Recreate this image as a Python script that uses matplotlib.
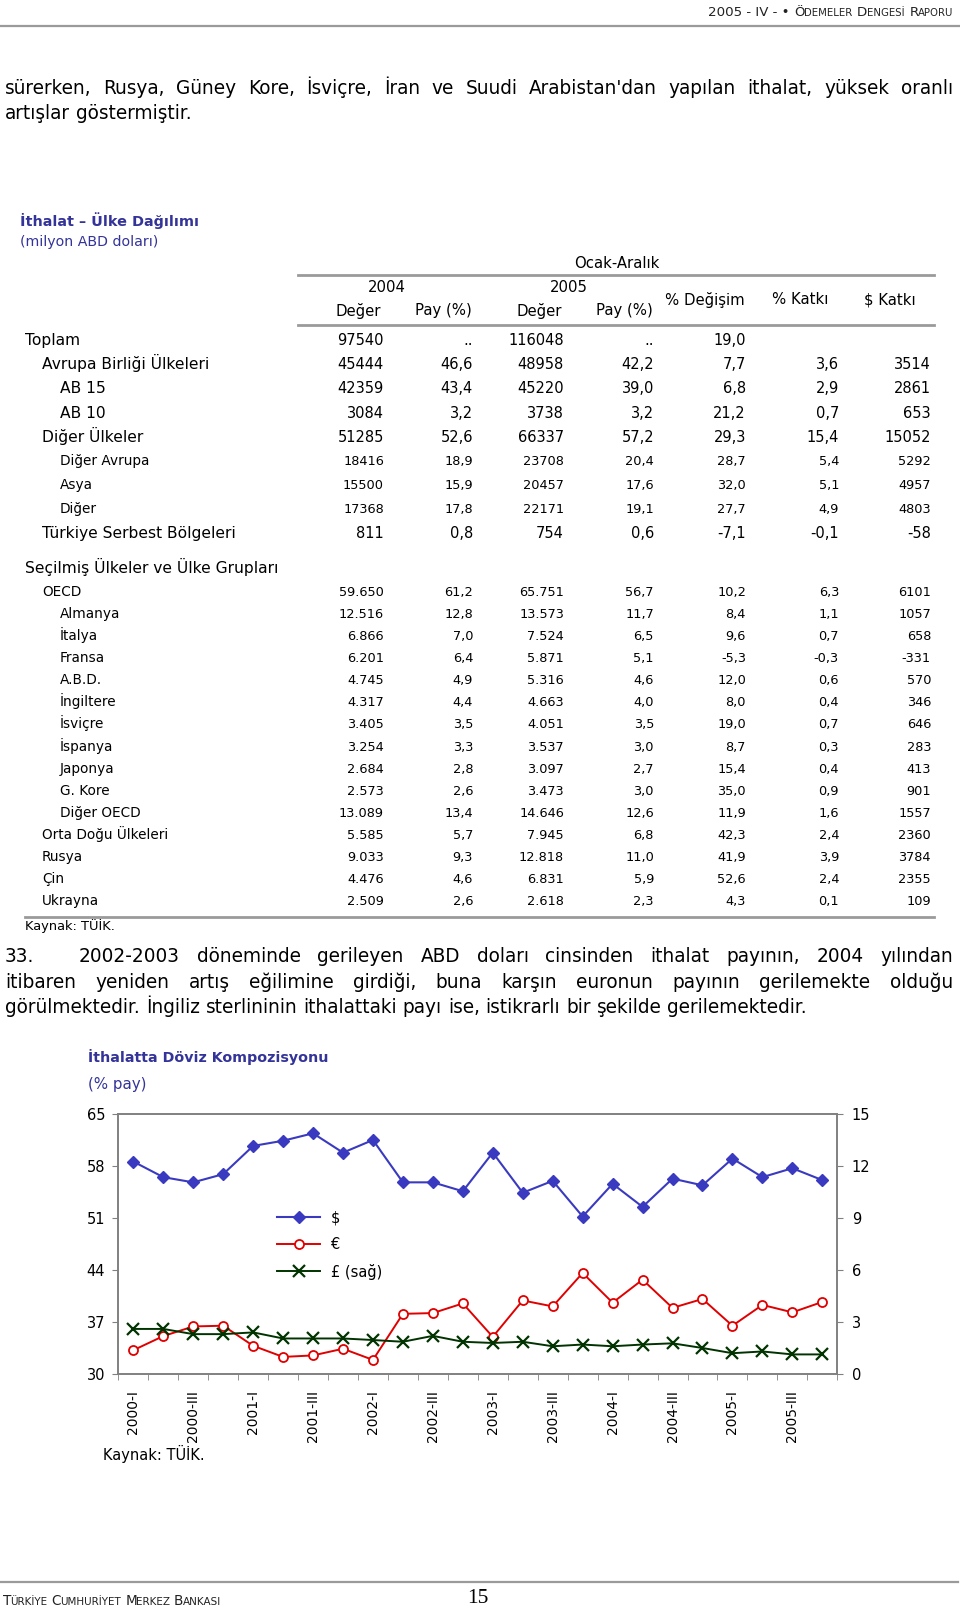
import numpy as np
import matplotlib
matplotlib.use("Agg")
import matplotlib.pyplot as plt

plt.rcParams["font.family"] = ["DejaVu Sans"]

NAVY = "#333399"
GRAY = "#9a9a9a"
INK = "#222222"

# ---------------- table: Ithalat - Ulke Dagilimi ----------------
labels1 = ["Toplam", "Avrupa Birliği Ülkeleri", "AB 15", "AB 10", "Diğer Ülkeler",
           "Diğer Avrupa", "Asya", "Diğer", "Türkiye Serbest Bölgeleri"]
indent1 = [0, 1, 2, 2, 1, 2, 2, 2, 1]
deger04_1 = ["97540", "45444", "42359", "3084", "51285", "18416", "15500", "17368", "811"]
pay04_1 = ["..", "46,6", "43,4", "3,2", "52,6", "18,9", "15,9", "17,8", "0,8"]
deger05_1 = ["116048", "48958", "45220", "3738", "66337", "23708", "20457", "22171", "754"]
pay05_1 = ["..", "42,2", "39,0", "3,2", "57,2", "20,4", "17,6", "19,1", "0,6"]
degisim_1 = ["19,0", "7,7", "6,8", "21,2", "29,3", "28,7", "32,0", "27,7", "-7,1"]
katki_1 = ["", "3,6", "2,9", "0,7", "15,4", "5,4", "5,1", "4,9", "-0,1"]
dkatki_1 = ["", "3514", "2861", "653", "15052", "5292", "4957", "4803", "-58"]

labels2 = ["OECD", "Almanya", "İtalya", "Fransa", "A.B.D.", "İngiltere", "İsviçre", "İspanya",
           "Japonya", "G. Kore", "Diğer OECD", "Orta Doğu Ülkeleri", "Rusya", "Çin", "Ukrayna"]
indent2 = [1, 2, 2, 2, 2, 2, 2, 2, 2, 2, 2, 1, 1, 1, 1]
deger04_2 = ["59.650", "12.516", "6.866", "6.201", "4.745", "4.317", "3.405", "3.254",
             "2.684", "2.573", "13.089", "5.585", "9.033", "4.476", "2.509"]
pay04_2 = ["61,2", "12,8", "7,0", "6,4", "4,9", "4,4", "3,5", "3,3",
           "2,8", "2,6", "13,4", "5,7", "9,3", "4,6", "2,6"]
deger05_2 = ["65.751", "13.573", "7.524", "5.871", "5.316", "4.663", "4.051", "3.537",
             "3.097", "3.473", "14.646", "7.945", "12.818", "6.831", "2.618"]
pay05_2 = ["56,7", "11,7", "6,5", "5,1", "4,6", "4,0", "3,5", "3,0",
           "2,7", "3,0", "12,6", "6,8", "11,0", "5,9", "2,3"]
degisim_2 = ["10,2", "8,4", "9,6", "-5,3", "12,0", "8,0", "19,0", "8,7",
             "15,4", "35,0", "11,9", "42,3", "41,9", "52,6", "4,3"]
katki_2 = ["6,3", "1,1", "0,7", "-0,3", "0,6", "0,4", "0,7", "0,3",
           "0,4", "0,9", "1,6", "2,4", "3,9", "2,4", "0,1"]
dkatki_2 = ["6101", "1057", "658", "-331", "570", "346", "646", "283",
            "413", "901", "1557", "2360", "3784", "2355", "109"]

# ---------------- chart: Ithalatta Doviz Kompozisyonu ----------------
quarters = [f"{y}-{q}" for y in range(2000, 2006) for q in ["I", "II", "III", "IV"]]
usd = [58.6, 56.5, 55.8, 56.9, 60.7, 61.4, 62.4, 59.8, 61.5, 55.8, 55.8, 54.6,
       59.8, 54.4, 56.0, 51.2, 55.6, 52.5, 56.3, 55.4, 59.0, 56.5, 57.7, 56.1]
eur = [33.2, 35.1, 36.4, 36.5, 33.8, 32.3, 32.5, 33.4, 31.9, 38.1, 38.2, 39.5,
       35.0, 39.9, 39.1, 43.6, 39.6, 42.7, 38.9, 40.1, 36.5, 39.3, 38.3, 39.7]
gbp = [2.6, 2.6, 2.3, 2.3, 2.4, 2.05, 2.05, 2.05, 1.96, 1.86, 2.2, 1.86,
       1.79, 1.86, 1.6, 1.7, 1.6, 1.7, 1.77, 1.5, 1.2, 1.3, 1.13, 1.13]

para_top = ["sürerken, Rusya, Güney Kore, İsviçre, İran ve Suudi Arabistan'dan yapılan ithalat, yüksek oranlı",
            "artışlar göstermiştir."]
para_33 = ["2002-2003 döneminde gerileyen ABD doları cinsinden ithalat payının, 2004 yılından",
           "itibaren yeniden artış eğilimine girdiği, buna karşın euronun payının gerilemekte olduğu",
           "görülmektedir. İngiliz sterlininin ithalattaki payı ise, istikrarlı bir şekilde gerilemektedir."]

fig = plt.figure(figsize=(9.6, 16.1), dpi=100)
page = fig.add_axes([0, 0, 1, 1])
page.set_xlim(0, 960)
page.set_ylim(1610, 0)
page.axis("off")
renderer = fig.canvas.get_renderer()


def width_of(t):
    return t.get_window_extent(renderer).width


def place(x, y, parts, align="left", gap=4, **kw):
    # parts: (text, size, kern) pieces drawn one after another, None = word gap
    texts, widths = [], []
    for p in parts:
        if p is None:
            texts.append(None)
            widths.append(gap)
            continue
        t = page.text(0, y, p[0], fontsize=p[1], ha="left", va="baseline", **kw)
        texts.append(t)
        widths.append(width_of(t) + p[2])
    cur = x - sum(widths) if align == "right" else x
    for t, w in zip(texts, widths):
        if t is not None:
            t.set_x(cur)
        cur += w


def smallcaps(text, big, small):
    parts = []
    for i, word in enumerate(text.split()):
        if i:
            parts.append(None)
        parts.append((word[0], big, -0.8 if len(word) > 1 else 0))
        if len(word) > 1:
            parts.append((word[1:], small, 0))
    return parts


def justify(line, x0, x1, y, size, last=False):
    words = line.split()
    texts = [page.text(x0, y, w, fontsize=size, ha="left", va="baseline", color="black")
             for w in words]
    widths = [width_of(t) for t in texts]
    if last:
        gap = size * 0.32 * 100 / 72
    else:
        gap = (x1 - x0 - sum(widths)) / (len(words) - 1)
    cur = x0
    for t, w in zip(texts, widths):
        t.set_x(cur)
        cur += w + gap


# body font size, from the width of the last line of paragraph 33
probe = page.text(0, 0, para_33[2], fontsize=10)
body_fs = 10 * 805 / width_of(probe)
probe.remove()

# header / footer
page.plot([0, 960], [26, 26], color=GRAY, lw=1.6)
place(953, 16, [("2005 - IV - •", 9.6, 0), None] + smallcaps("ÖDEMELER DENGESİ RAPORU", 9.6, 7.3),
      align="right", gap=5, color=INK)
page.plot([0, 958], [1582, 1582], color=GRAY, lw=1.6)
place(3, 1605, smallcaps("TÜRKİYE CUMHURİYET MERKEZ BANKASI", 9.8, 7.5), gap=4, color=INK)
page.text(478, 1598, "15", fontsize=15.5, family="Liberation Serif", ha="center", va="center")

# opening paragraph
justify(para_top[0], 5, 953, 94, body_fs)
justify(para_top[1], 5, 953, 119, body_fs, last=True)

# table title
page.text(20, 221, "İthalat – Ülke Dağılımı", fontsize=10.4, fontweight="bold", color=NAVY,
          va="center")
page.text(20, 242, "(milyon ABD doları)", fontsize=10.2, color=NAVY, va="center")

# table header
hs = 10.7
page.text(617, 264, "Ocak-Aralık", fontsize=hs, ha="center", va="center")
page.plot([298, 934], [275, 275], color=GRAY, lw=2)
page.text(387, 287, "2004", fontsize=hs, ha="center", va="center")
page.text(569, 287, "2005", fontsize=hs, ha="center", va="center")
for cx, txt in [(358, "Değer"), (443, "Pay (%)"), (539, "Değer"), (624, "Pay (%)")]:
    page.text(cx, 311, txt, fontsize=hs, ha="center", va="center")
for cx, txt in [(705, "% Değişim"), (800, "% Katkı"), (890, "$ Katkı")]:
    page.text(cx, 300, txt, fontsize=hs, ha="center", va="center")
page.plot([298, 934], [325, 325], color=GRAY, lw=2)

col_right = [384, 473, 564, 654, 746, 839, 931]
indent_x = [25, 42, 60]


def table_rows(labels, indents, cols, y0, step, num_sizes, lab_sizes):
    for i, lab in enumerate(labels):
        y = y0 + i * step
        fs = num_sizes[i]
        base = y + 0.36 * fs * 100 / 72
        page.text(indent_x[indents[i]], base, lab, fontsize=lab_sizes[i], va="baseline")
        for xr, col in zip(col_right, cols):
            page.text(xr, base, col[i], fontsize=fs, ha="right", va="baseline")


big_row = [d < 2 or i < 5 for i, d in enumerate(indent1)]
table_rows(labels1, indent1,
           [deger04_1, pay04_1, deger05_1, pay05_1, degisim_1, katki_1, dkatki_1],
           340, 24.1,
           [10.5 if b else 9.3 for b in big_row],
           [11.2 if b else 9.8 for b in big_row])
page.text(25, 568 + 5, "Seçilmiş Ülkeler ve Ülke Grupları", fontsize=11.2, va="baseline")
table_rows(labels2, indent2,
           [deger04_2, pay04_2, deger05_2, pay05_2, degisim_2, katki_2, dkatki_2],
           591.4, 22.07, [9.3] * len(labels2), [9.8] * len(labels2))
page.plot([25, 934], [917, 917], color=GRAY, lw=2)
page.text(25, 930, "Kaynak: TÜİK.", fontsize=9.4, va="baseline")

# paragraph 33
page.text(5, 962, "33.", fontsize=body_fs, va="baseline")
justify(para_33[0], 79, 953, 962, body_fs)
justify(para_33[1], 5, 953, 988, body_fs)
justify(para_33[2], 5, 953, 1013, body_fs, last=True)

# chart titles
page.text(88, 1057, "İthalatta Döviz Kompozisyonu", fontsize=10.3, fontweight="bold",
          color=NAVY, va="center")
page.text(88, 1084, "(% pay)", fontsize=10.8, color=NAVY, va="center")
page.text(103, 1454, "Kaynak: TÜİK.", fontsize=10.5, va="center")

# chart
ax = fig.add_axes([118.3 / 960, 1 - 1374 / 1610, 719 / 960, 260 / 1610])
x = np.arange(len(quarters))
l1, = ax.plot(x, usd, color="#3a3ac0", lw=1.5, marker="D", ms=6.5, mfc="#3a3ac0",
              mec="#3a3ac0", label="$")
l2, = ax.plot(x, eur, color="#e00000", lw=1.4, marker="o", ms=6.5, mfc="white",
              mec="#e00000", mew=1.3, label="€")
ax.set_ylim(30, 65)
ax.set_yticks(range(30, 66, 7))
ax.set_xlim(-0.5, len(quarters) - 0.5)
ax.set_xticks(x[::2])
ax.set_xticklabels(quarters[::2], rotation=90, fontsize=10)
ax.set_xticks(np.arange(len(quarters) + 1) - 0.5, minor=True)
ax.tick_params(axis="x", which="major", length=0, pad=11.5)
ax.tick_params(axis="x", which="minor", length=4, color="#808080", direction="out")
ax.tick_params(axis="y", labelsize=10.5, length=4, color="#808080", pad=5.5)

ax2 = ax.twinx()
l3, = ax2.plot(x, gbp, color="#003300", lw=1.4, marker="x", ms=8, mew=1.6, label="£ (sağ)")
ax2.set_ylim(0, 15)
ax2.set_yticks(range(0, 16, 3))
ax2.tick_params(axis="y", labelsize=10.5, length=4, color="#808080", pad=6.5)

for a in (ax, ax2):
    for s in a.spines.values():
        s.set_color("#808080")
        s.set_linewidth(1.2)

ax2.legend(handles=[l1, l2, l3], loc="upper left", bbox_to_anchor=(0.221, 0.63),
           frameon=False, fontsize=10.5, borderpad=0, borderaxespad=0,
           handlelength=2.95, handletextpad=0.75, labelspacing=0.8)

fig.savefig("out.png", dpi=100)
